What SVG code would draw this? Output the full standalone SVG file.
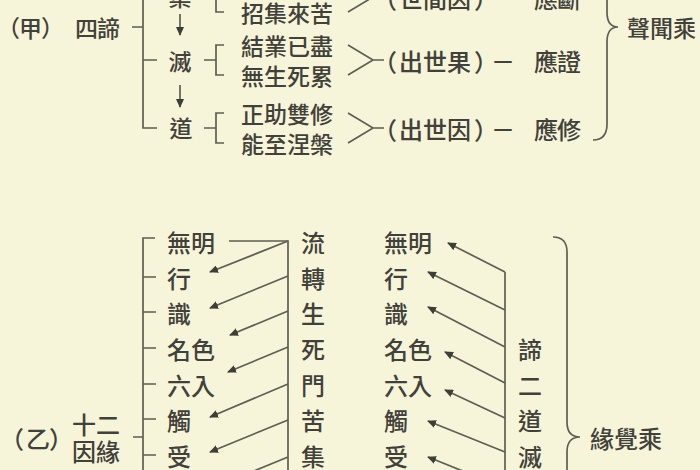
<svg xmlns="http://www.w3.org/2000/svg" width="700" height="470" viewBox="0 0 700 470">
<style>
text{font-family:"Noto Sans CJK TC","Noto Sans CJK SC",sans-serif;font-weight:500;fill:#414139;dominant-baseline:central}
.t23{font-size:23px}
.t24{font-size:24px}
.mid{text-anchor:middle}
.ln{fill:none;stroke:#5e5e52;stroke-width:1.7}
.ar{marker-end:url(#ah)}
</style>
<defs>
<marker id="ah" markerWidth="9" markerHeight="8" refX="8" refY="4" orient="auto" markerUnits="userSpaceOnUse">
<path d="M0,0 L9,4 L0,8 z" fill="#3e3e36"/>
</marker>
</defs>
<rect width="700" height="470" fill="#f6f4d9"/>

<g id="connectors" class="ln">
<path d="M132,27 H143 M143,-10 V128 H157 M143,60 H157 M143,-3 H157"/>
<path class="ar" d="M180,14 V35"/>
<path class="ar" d="M180,85 V107"/>
<path d="M205,-3 H216 M224,-18 H216 V12 H224"/>
<path d="M204,60 H216 M224,45 H216 V75 H224"/>
<path d="M204,128 H216 M224,113 H216 V143 H224"/>
<path d="M348,-18 L373,-3 L348,12 M373,-3 H384"/>
<path d="M348,45 L373,60 L348,75 M373,60 H384"/>
<path d="M348,113 L373,128 L348,143 M373,128 H384"/>
<path d="M593,-86 Q607,-86 607,-70 V12 Q607,27 618,27 Q607,27 607,42 V124 Q607,140 593,140"/>
<path d="M133,437 H143 M155,238 H143 V480 M143,277 H156 M143,312 H156 M143,348 H156 M143,384 H156 M143,419 H156 M143,455 H156"/>
<path d="M229,241 H288 V480"/>
<path class="ar" d="M288,241 L210,272"/>
<path class="ar" d="M288,276 L210,308"/>
<path class="ar" d="M288,311 L230,335"/>
<path class="ar" d="M288,347 L228,372"/>
<path class="ar" d="M288,384 L210,417"/>
<path class="ar" d="M288,420 L210,452"/>
<path class="ar" d="M288,457 L210,489"/>
<path d="M505,272 V480"/>
<path class="ar" d="M505,272 L448,243"/>
<path class="ar" d="M505,310 L428,272"/>
<path class="ar" d="M505,347 L428,307"/>
<path class="ar" d="M505,383 L445,352"/>
<path class="ar" d="M505,418 L445,390"/>
<path class="ar" d="M505,452 L428,421"/>
<path class="ar" d="M505,488 L428,457"/>
<path d="M553,237 Q567,237 567,252 V422 Q567,437 580,437 Q567,437 567,452 V622 Q567,637 553,637"/>
</g>

<g id="n-jia"><text class="t23" x="-3 19 41 75 97" y="27">（甲）四諦</text></g>
<g id="n-ji"><text class="t23 mid" x="180" y="-4">集</text></g>
<g id="n-mie"><text class="t23 mid" x="180" y="60">滅</text></g>
<g id="n-dao"><text class="t23 mid" x="181" y="127">道</text></g>
<g id="n-ji-d"><text class="t23" x="241" y="12">招集來苦</text></g>
<g id="n-mie-d"><text class="t23" x="241" y="45">結業已盡</text><text class="t23" x="241" y="75">無生死累</text></g>
<g id="n-dao-d"><text class="t23" x="241" y="113">正助雙修</text><text class="t23" x="241" y="143">能至涅槃</text></g>
<g id="n-ji-r"><text class="t24" x="373 399 423 447 474 491 534 557" y="-3">（世間因）－應斷</text></g>
<g id="n-mie-r"><text class="t24" x="373 399 423 447 474 491 534 557" y="60">（出世果）－應證</text></g>
<g id="n-dao-r"><text class="t24" x="373 399 423 447 474 491 534 557" y="128">（出世因）－應修</text></g>
<g id="n-shengwen"><text class="t23" x="627" y="27">聲聞乘</text></g>

<g id="n-yi"><text class="t24" x="0 26 49" y="437">（乙）</text></g>
<g id="n-12"><text class="t24" x="72" y="423">十二</text><text class="t24" x="72" y="450">因緣</text></g>
<g id="n-left-list">
<text class="t24" x="167" y="241">無明</text>
<text class="t24" x="167" y="277">行</text>
<text class="t24" x="167" y="312">識</text>
<text class="t24" x="167" y="348">名色</text>
<text class="t24" x="167" y="384">六入</text>
<text class="t24" x="167" y="419">觸</text>
<text class="t24" x="167" y="455">受</text>
</g>
<g id="n-liuzhuan">
<text class="t24 mid" x="313" y="241">流</text>
<text class="t24 mid" x="313" y="277">轉</text>
<text class="t24 mid" x="313" y="312">生</text>
<text class="t24 mid" x="313" y="348">死</text>
<text class="t24 mid" x="313" y="384">門</text>
<text class="t24 mid" x="313" y="419">苦</text>
<text class="t24 mid" x="313" y="455">集</text>
</g>
<g id="n-right-list">
<text class="t24" x="384" y="241">無明</text>
<text class="t24" x="384" y="277">行</text>
<text class="t24" x="384" y="312">識</text>
<text class="t24" x="384" y="348">名色</text>
<text class="t24" x="384" y="384">六入</text>
<text class="t24" x="384" y="419">觸</text>
<text class="t24" x="384" y="455">受</text>
</g>
<g id="n-huanmie">
<text class="t24 mid" x="530" y="348">諦</text>
<text class="t24 mid" x="530" y="384">二</text>
<text class="t24 mid" x="530" y="419">道</text>
<text class="t24 mid" x="530" y="455">滅</text>
</g>
<g id="n-yuanjue"><text class="t24" x="590" y="437">緣覺乘</text></g>
</svg>
